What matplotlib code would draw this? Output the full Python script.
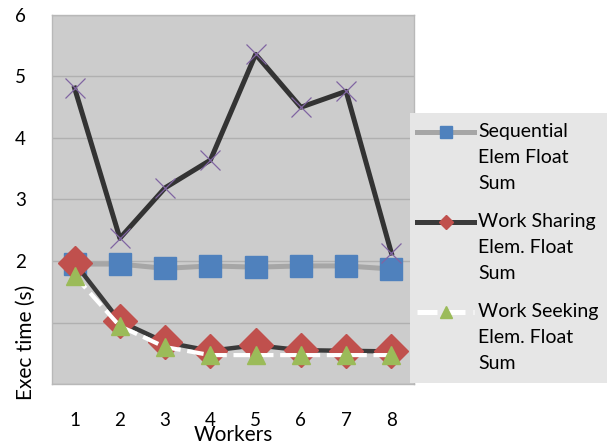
import matplotlib
matplotlib.use("Agg")
import matplotlib.pyplot as plt
from matplotlib.lines import Line2D
from matplotlib.patches import Rectangle

plt.rcParams['font.family'] = ['Lato', 'DejaVu Sans']

workers = [1, 2, 3, 4, 5, 6, 7, 8]
sequential = [1.95, 1.95, 1.88, 1.92, 1.90, 1.92, 1.92, 1.87]
work_sharing = [1.97, 1.02, 0.68, 0.54, 0.63, 0.55, 0.54, 0.53]
work_seeking = [1.76, 0.94, 0.60, 0.47, 0.47, 0.47, 0.47, 0.47]
other_series = [4.81, 2.37, 3.19, 3.64, 5.36, 4.50, 4.76, 2.13]

labels = ["Sequential\nElem Float\nSum",
          "Work Sharing\nElem. Float\nSum",
          "Work Seeking\nElem. Float\nSum"]
yticks = [0, 1, 2, 3, 4, 5, 6]
ytick_labels = ["", "", "2", "3", "4", "5", "6"]

C_BLUE = "#4f81bd"
C_RED = "#c0504d"
C_GREEN = "#9bbb59"
C_PURPLE = "#8064a2"
C_GRAYLINE = "#a6a6a6"
C_DARK = "#3a3a3a"

fig = plt.figure(figsize=(6.07, 4.41), dpi=100)
ax = fig.add_axes([52/607, 57/441, 362/607, 369/441])
ax.set_facecolor("#cccccc")

ax.plot(workers, sequential, color=C_GRAYLINE, lw=3.6, marker='s', ms=16,
        mfc=C_BLUE, mec=C_BLUE, solid_capstyle='round')
ax.plot(workers, work_sharing, color=C_DARK, lw=3.2, marker='D', ms=17,
        mfc=C_RED, mec=C_RED)
ax.plot(workers, work_seeking, color="white", lw=3.0, marker='^', ms=13,
        mfc=C_GREEN, mec=C_GREEN, dashes=(4, 1.6))
ax.plot(workers, other_series, color="#333333", lw=3.6, marker='x', ms=14,
        mec=C_PURPLE, mew=0.9)

ax.set_xlim(0.5, 8.5)
ax.set_ylim(0, 6)
ax.set_yticks(yticks)
ax.set_yticklabels(ytick_labels)
ax.set_xticks(workers)
ax.set_xticklabels([str(w) for w in workers])
ax.tick_params(axis='both', length=0, labelsize=13.5)
ax.tick_params(axis='y', pad=19)
ax.tick_params(axis='x', pad=20)
ax.yaxis.grid(True, color="#b0b0b0", lw=1)
ax.set_axisbelow(True)
for s in ax.spines.values():
    s.set_color("#b8b8b8")
    s.set_linewidth(1)

ax.set_xlabel("Workers", fontsize=15, labelpad=-3)
ax.set_ylabel("Exec time (s)", fontsize=15)
ax.yaxis.set_label_coords(-0.045, 0.114)

# legend box (manual, handle aligned to first text line)
W, H = 607, 441
fig.patches.append(Rectangle((410/W, (H-383)/H), (607-410)/W, (383-113)/H,
                             transform=fig.transFigure, facecolor="#e6e6e6",
                             edgecolor="none", zorder=5))
styles = [dict(color=C_GRAYLINE, lw=3.6, marker='s', ms=8, mfc=C_BLUE, mec=C_BLUE),
          dict(color=C_DARK, lw=3.6, marker='D', ms=7, mfc=C_RED, mec=C_RED),
          dict(color="white", lw=3.6, marker='^', ms=9, mfc=C_GREEN, mec=C_GREEN,
               dashes=(4, 1.6))]
ys = [132, 222, 312]
for lab, st, y in zip(labels, styles, ys):
    yf = (H - y) / H
    fig.lines.append(Line2D([417/W, 474/W], [yf, yf], transform=fig.transFigure,
                            zorder=6, **{k: v for k, v in st.items() if k not in ('marker', 'ms', 'mfc', 'mec')}))
    fig.lines.append(Line2D([445.5/W], [yf], transform=fig.transFigure, zorder=7,
                            ls='none', marker=st['marker'], ms=st['ms'],
                            mfc=st['mfc'], mec=st['mec']))
    fig.text(478/W, (H - y + 9)/H, lab, fontsize=14, va='top', ha='left',
             linespacing=1.63, zorder=8)

fig.savefig("out.png", dpi=100)
